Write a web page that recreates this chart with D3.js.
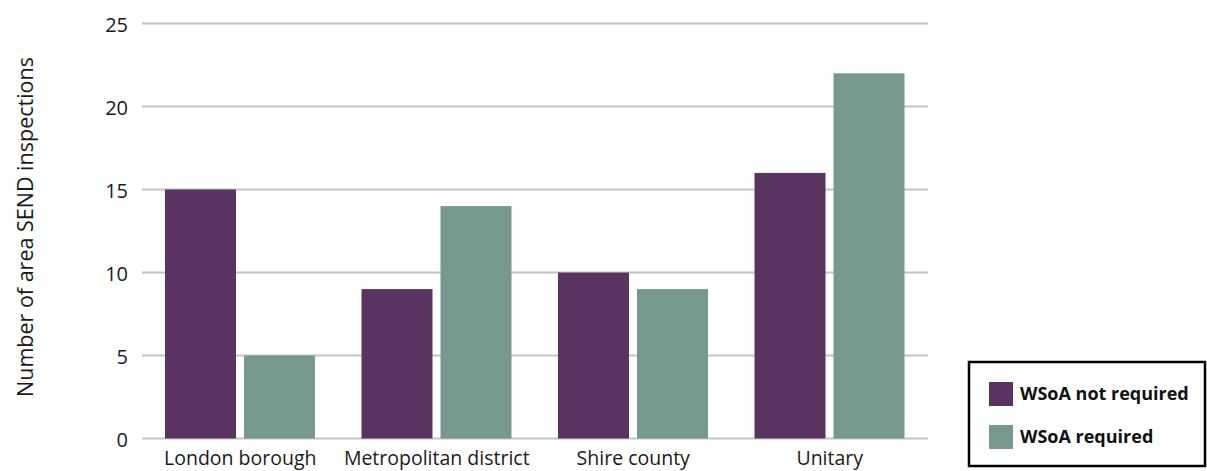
<!DOCTYPE html>
<html><head><meta charset="utf-8">
<script src="https://cdn.jsdelivr.net/npm/d3@7"></script>
<style>body{margin:0;background:#fff}svg{display:block;font-family:"Open Sans","Noto Sans",sans-serif}</style>
</head><body><svg id="c" width="1207" height="471"></svg>
<script>
const categories = ["London borough","Metropolitan district","Shire county","Unitary"];
const seriesNames = ["WSoA not required","WSoA required"];
const notRequired = [15,9,10,16];
const required = [5,14,9,22];
const yTicks = [0,5,10,15,20,25];
const colors = ["#5a3461","#77988e"];

const svg = d3.select("#c");
const x = d3.scaleBand().domain(categories).range([142,928]).paddingInner(0).paddingOuter(0);
const y = d3.scaleLinear().domain([0,25]).range([438.5,23.5]);
const inner = d3.scaleBand().domain(seriesNames).range([23,173]).paddingInner(8/79);

// gridlines
svg.append("g").selectAll("line").data(yTicks).join("line")
  .attr("x1",142).attr("x2",928)
  .attr("y1",d=>y(d)).attr("y2",d=>y(d))
  .attr("stroke","#c4c4c4").attr("stroke-width",2);

// y tick labels
const yAxis = d3.axisLeft(y).tickValues(yTicks).tickSize(0).tickPadding(0);
const ga = svg.append("g").attr("transform","translate(128,0)").call(yAxis);
ga.select(".domain").remove();
ga.selectAll("text").attr("font-size",20).attr("fill","#1a1a1a").attr("font-family","'Open Sans','Noto Sans',sans-serif").attr("dy","0.38em");

// bars
const data = categories.map((c,i)=>({c, vals:[notRequired[i],required[i]]}));
const groups = svg.append("g").selectAll("g").data(data).join("g")
  .attr("transform",d=>`translate(${x(d.c)},0)`);
groups.selectAll("rect").data(d=>d.vals.map((v,j)=>({k:seriesNames[j],v,j}))).join("rect")
  .attr("x",d=>inner(d.k)).attr("width",inner.bandwidth())
  .attr("y",d=>y(d.v)).attr("height",d=>y(0)-y(d.v))
  .attr("fill",d=>colors[d.j]);

// x labels
const xAxis = d3.axisBottom(x).tickSize(0).tickPadding(0);
const gx = svg.append("g").attr("transform","translate(0,447)").call(xAxis);
gx.select(".domain").remove();
gx.selectAll("text").attr("font-size",19.5).attr("fill","#1a1a1a").attr("font-family","'Open Sans','Noto Sans',sans-serif").attr("dy","0.9em");

// y title
svg.append("text").attr("transform","translate(33,227) rotate(-90)")
  .attr("text-anchor","middle").attr("font-size",21.5).attr("fill","#1a1a1a")
  .text("Number of area SEND inspections");

// legend
const lg = svg.append("g");
lg.append("rect").attr("x",969).attr("y",362).attr("width",236).attr("height",104)
  .attr("fill","#fff").attr("stroke","#000").attr("stroke-width",2.5);
seriesNames.forEach((s,i)=>{
  lg.append("rect").attr("x",989).attr("y",382+i*43).attr("width",24).attr("height",24).attr("fill",colors[i]);
  lg.append("text").attr("x",1020).attr("y",394+i*43).attr("dy","0.35em")
    .attr("font-size",18).attr("font-weight","bold").attr("fill","#111").text(s);
});
</script></body></html>
